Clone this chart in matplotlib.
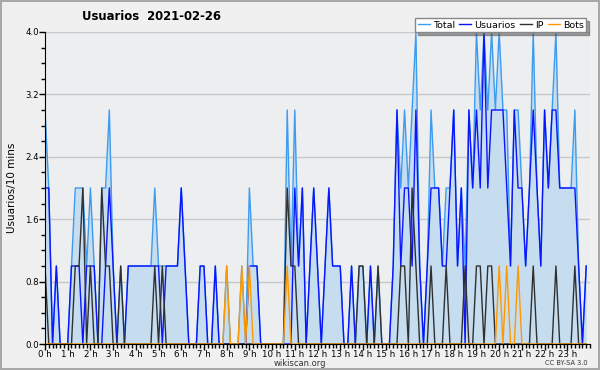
import numpy as np
import matplotlib.pyplot as plt
from matplotlib.ticker import MultipleLocator, FormatStrFormatter

# valores cada 10 minutos, una fila por hora (6 por fila)
total = [3, 2, 0, 1, 0, 0,
         0, 1, 2, 2, 2, 1,
         2, 1, 0, 2, 2, 3,
         1, 0, 1, 0, 1, 1,
         1, 1, 1, 1, 1, 2,
         1, 1, 1, 1, 1, 1,
         2, 1, 0, 0, 0, 1,
         1, 0, 0, 1, 0, 0,
         1, 0, 0, 0, 1, 0,
         2, 1, 1, 0, 0, 0,
         0, 0, 0, 0, 3, 1,
         3, 1, 2, 0, 1, 2,
         1, 0, 1, 2, 1, 1,
         1, 0, 0, 1, 0, 1,
         1, 0, 1, 0, 1, 0,
         0, 0, 1, 3, 2, 3,
         2, 3, 4, 1, 0, 1,
         3, 2, 2, 1, 2, 2,
         3, 1, 2, 1, 3, 2,
         4, 3, 4, 3, 4, 3,
         4, 3, 3, 1, 3, 3,
         2, 1, 2, 4, 2, 1,
         3, 2, 3, 4, 2, 2,
         2, 2, 3, 1, 0, 1]

usuarios = [2, 2, 0, 1, 0, 0,
            0, 1, 1, 1, 0, 1,
            1, 1, 0, 0, 1, 2,
            1, 0, 0, 0, 1, 1,
            1, 1, 1, 1, 1, 1,
            1, 0, 1, 1, 1, 1,
            2, 1, 0, 0, 0, 1,
            1, 0, 0, 1, 0, 0,
            0, 0, 0, 0, 0, 0,
            1, 1, 1, 0, 0, 0,
            0, 0, 0, 0, 0, 0,
            2, 1, 2, 0, 1, 2,
            1, 0, 1, 2, 1, 1,
            1, 0, 0, 1, 0, 0,
            0, 0, 1, 0, 0, 0,
            0, 0, 1, 3, 1, 2,
            2, 1, 3, 1, 0, 1,
            2, 2, 2, 1, 1, 2,
            3, 1, 2, 0, 3, 2,
            3, 2, 4, 2, 3, 3,
            3, 3, 2, 1, 3, 2,
            2, 1, 2, 3, 2, 1,
            3, 2, 3, 3, 2, 2,
            2, 2, 2, 1, 0, 1]

ip = [1, 0, 0, 0, 0, 0,
      0, 0, 1, 1, 2, 0,
      1, 0, 0, 2, 1, 1,
      0, 0, 1, 0, 0, 0,
      0, 0, 0, 0, 0, 1,
      0, 1, 0, 0, 0, 0,
      0, 0, 0, 0, 0, 0,
      0, 0, 0, 0, 0, 0,
      0, 0, 0, 0, 0, 0,
      0, 0, 0, 0, 0, 0,
      0, 0, 0, 0, 2, 1,
      1, 0, 0, 0, 0, 0,
      0, 0, 0, 0, 0, 0,
      0, 0, 0, 0, 0, 1,
      1, 0, 0, 0, 1, 0,
      0, 0, 0, 0, 1, 1,
      0, 2, 1, 0, 0, 0,
      1, 0, 0, 0, 1, 0,
      0, 0, 0, 1, 0, 0,
      1, 1, 0, 1, 1, 0,
      0, 0, 0, 0, 0, 0,
      0, 0, 0, 1, 0, 0,
      0, 0, 0, 1, 0, 0,
      0, 0, 1, 0, 0, 0]

bots = [0] * 48 + [1, 0, 0, 0, 1, 0,
                   1, 0, 0, 0, 0, 0,
                   0, 0, 0, 0, 1, 0] + [0] * 54 + [1, 0, 1, 0, 0, 1] + [0] * 18

hora_labels = ['%d h' % h for h in range(24)]

# eje x en horas
x = np.arange(len(total)) / 6.0

fig = plt.figure(figsize=(6, 3.7), dpi=100, facecolor='#f0f0f0',
                 edgecolor='#a8a8a8', linewidth=1.5)
ax = fig.add_axes([45/600, 1 - 344/370, 545/600, 312/370])
ax.set_facecolor('#eceef0')

ax.fill_between(x, total, 0, color='#c6dcef', lw=0)
ax.plot(x, total, color='#3d9bf0', lw=1, label='Total')
ax.plot(x, usuarios, color='#0a14ff', lw=1, label='Usuarios')
ax.plot(x, ip, color='#303030', lw=1, label='IP')
ax.plot(x, bots, color='#ff9900', lw=1, label='Bots')

ax.set_xlim(0, 24)
ax.set_ylim(0, 4)
ax.yaxis.set_major_locator(MultipleLocator(0.8))
ax.yaxis.set_minor_locator(MultipleLocator(0.2))
ax.yaxis.set_major_formatter(FormatStrFormatter('%.1f'))
ax.set_xticks(range(24))
ax.set_xticklabels(hora_labels)
ax.xaxis.set_minor_locator(MultipleLocator(1/6))
ax.grid(axis='y', color='#c8c8c8', lw=1)
ax.set_axisbelow(True)

for s in ['top', 'right']:
    ax.spines[s].set_visible(False)
for s in ['left', 'bottom']:
    ax.spines[s].set_color('black')
ax.tick_params(which='major', length=4, width=1, labelsize=6.2, pad=0.5)
ax.tick_params(which='minor', length=3, width=1)

ax.set_ylabel('Usuarios/10 mins', fontsize=7.5, labelpad=6)

fig.text(151/600, 1 - 17/370, 'Usuarios  2021-02-26', fontsize=8.4,
         fontweight='bold', ha='center', va='center')
fig.text(300/600, 1 - 363/370, 'wikiscan.org', fontsize=6,
         ha='center', va='center', color='#333333')
fig.text(588/600, 1 - 363/370, 'CC BY-SA 3.0', fontsize=4.8,
         ha='right', va='center', color='#333333')

leg = fig.legend(loc='lower right', bbox_to_anchor=(586/600, 1 - 32/370),
                 ncol=4, fontsize=6.8, frameon=True, fancybox=False,
                 shadow=True, handlelength=1.3, handletextpad=0.3,
                 columnspacing=0.45, borderpad=0.25, borderaxespad=0)
leg.get_frame().set_edgecolor('#888888')
leg.get_frame().set_linewidth(1)

fig.savefig('out.png', dpi=100, facecolor=fig.get_facecolor(),
            edgecolor=fig.get_edgecolor())
